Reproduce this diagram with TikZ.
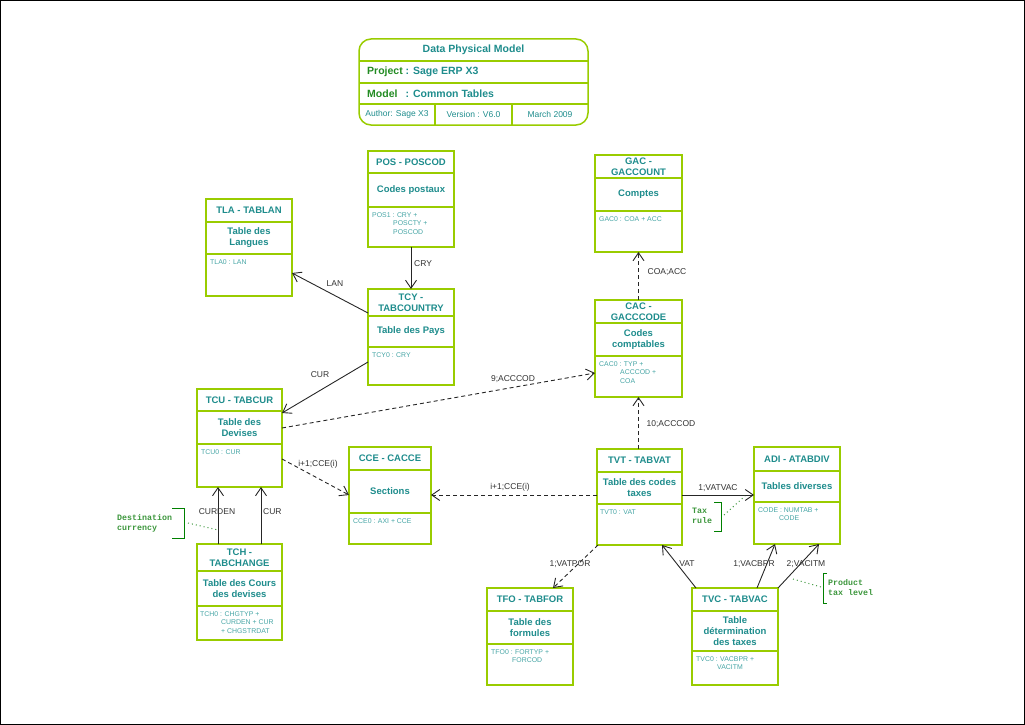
\documentclass[tikz,border=0pt]{standalone}
\usepackage{fontspec}
\setmainfont{Liberation Sans}
\newfontfamily\notefont{Liberation Mono}
\usetikzlibrary{arrows.meta,fit}

\definecolor{boxgreen}{RGB}{153,204,0}
\definecolor{hdrteal}{RGB}{30,140,140}
\definecolor{keyteal}{RGB}{70,165,165}
\definecolor{notegreen}{RGB}{60,150,60}
\definecolor{brgreen}{RGB}{0,128,0}
\definecolor{projgreen}{RGB}{34,139,34}
\definecolor{lblgray}{RGB}{50,50,50}

\tikzset{
 entity/.style={draw=boxgreen, line width=1.7pt, inner sep=0pt, outer sep=0pt},
 sepline/.style={draw=boxgreen, line width=1.7pt},
 hdr/.style={font=\fontsize{9.5}{11}\selectfont\bfseries, text=hdrteal, align=center, inner sep=0pt},
 keys/.style={font=\fontsize{6.9}{8.7}\selectfont, text=keyteal, align=left, inner sep=0pt, anchor=base west},
 conn/.style={draw=black!85, line width=0.9pt, -{Straight Barb[length=8pt,width=11pt,line width=0.9pt]}},
 dconn/.style={conn, dash pattern=on 4pt off 3pt},
 lbl/.style={font=\fontsize{8.5}{10}\selectfont, text=lblgray, inner sep=0pt},
 note/.style={font=\notefont\fontsize{8.3}{10}\selectfont\bfseries, text=notegreen, align=left, inner sep=0pt, anchor=west},
 bracket/.style={draw=brgreen, line width=1pt},
 dotline/.style={draw=notegreen, line width=1pt, dash pattern=on 1pt off 3pt},
 ttl/.style={font=\fontsize{10.5}{12}\selectfont\bfseries, text=hdrteal, inner sep=0pt},
 auth/.style={font=\fontsize{8.5}{10}\selectfont, text=hdrteal, inner sep=0pt},
}

\newcommand\entbox[9]{%
 \node[entity, fit={(#2,#3) (#4,#5)}] (#1) {};
 \draw[sepline] (#2,#6) -- (#4,#6);
 \draw[sepline] (#2,#7) -- (#4,#7);
 \node[hdr] (#1-h) at ({(#2+#4)/2},{(#3+#6)/2}) {#8};
 \node[hdr] (#1-m) at ({(#2+#4)/2},{(#6+#7)/2}) {#9};
}
\newcommand\ind{\hspace*{21pt}}

\begin{document}
\begin{tikzpicture}[x=1pt,y=-1pt]
\useasboundingbox (0,0) rectangle (1025,725);
\draw[line width=1.2pt] (0.6,0.6) rectangle (1024.4,724.4);

% title block
\node[draw=boxgreen, line width=1.5pt, rounded corners=12pt, inner sep=0pt, outer sep=0pt, fit={(359,39) (588,125)}] (title) {};
\draw[sepline, line width=1.5pt] (title.west |- 0,61) -- (title.east |- 0,61);
\draw[sepline, line width=1.5pt] (title.west |- 0,83) -- (title.east |- 0,83);
\draw[sepline, line width=1.5pt] (title.west |- 0,104) -- (title.east |- 0,104);
\draw[sepline, line width=1.5pt] (435,104) -- (title.south -| 435,0);
\draw[sepline, line width=1.5pt] (512,104) -- (title.south -| 512,0);
\node[ttl] (t1) at (473.5,50) {Data Physical Model};
\node[ttl, anchor=west] (t2) at (367,72) {\textcolor{projgreen}{\makebox[38.5pt][l]{Project}}: Sage ERP X3};
\node[ttl, anchor=west] (t3) at (367,94) {\textcolor{projgreen}{\makebox[38.5pt][l]{Model}}: Common Tables};
\node[auth] (t4) at (397,114.5) {Author: Sage X3};
\node[auth] (t5) at (473.5,114.5) {Version : V6.0};
\node[auth] (t6) at (550,114.5) {March 2009};

% entities (keys: base anchor is the last line's baseline)
\entbox{pos}{368}{151}{454}{247}{173}{207}{POS - POSCOD}{Codes postaux}
\node[keys] (pos-k) at (372,234.4) {POS1 : CRY +\\\ind POSCTY +\\\ind POSCOD};

\entbox{tla}{206}{199}{292}{296}{222}{254}{TLA - TABLAN}{Table des\\Langues}
\node[keys] (tla-k) at (210,264.5) {TLA0 : LAN};

\entbox{gac}{595}{155}{682}{252}{178}{211}{GAC -\\GACCOUNT}{Comptes}
\node[keys] (gac-k) at (599,221) {GAC0 : COA + ACC};

\entbox{tcy}{368}{289}{454}{385}{316}{347}{TCY -\\TABCOUNTRY}{Table des Pays}
\node[keys] (tcy-k) at (372,357.5) {TCY0 : CRY};

\entbox{cac}{595}{300}{682}{397}{323}{356}{CAC -\\GACCCODE}{Codes\\comptables}
\node[keys] (cac-k) at (599,383.4) {CAC0 : TYP +\\\ind ACCCOD +\\\ind COA};

\entbox{tcu}{197}{389}{282}{487}{411}{444}{TCU - TABCUR}{Table des\\Devises}
\node[keys] (tcu-k) at (201,454) {TCU0 : CUR};

\entbox{cce}{349}{447}{431}{544}{470}{513}{CCE - CACCE}{Sections}
\node[keys] (cce-k) at (353,523) {CCE0 : AXI + CCE};

\entbox{tvt}{597}{449}{682}{545}{472}{504}{TVT - TABVAT}{Table des codes\\taxes}
\node[keys] (tvt-k) at (600,514) {TVT0 : VAT};

\entbox{adi}{754}{447}{840}{544}{471}{502}{ADI - ATABDIV}{Tables diverses}
\node[keys] (adi-k) at (758,520.7) {CODE : NUMTAB +\\\ind CODE};

\entbox{tch}{197}{544}{282}{640}{571}{606}{TCH -\\TABCHANGE}{Table des Cours\\des devises}
\node[keys] (tch-k) at (200,633.4) {TCH0 : CHGTYP +\\\ind CURDEN + CUR\\\ind + CHGSTRDAT};

\entbox{tfo}{487}{588}{573}{685}{611}{644}{TFO - TABFOR}{Table des\\formules}
\node[keys] (tfo-k) at (491,662.7) {TFO0 : FORTYP +\\\ind FORCOD};

\entbox{tvc}{692}{588}{778}{685}{611}{651}{TVC - TABVAC}{Table\\d\'etermination\\des taxes}
\node[keys] (tvc-k) at (696,669.7) {TVC0 : VACBPR +\\\ind VACITM};

% connectors
\draw[conn] (pos.south) -- (tcy.north);
\draw[conn] (tcy.west |- 0,313) -- (tla.east |- 0,273);
\draw[conn] (tcy.west |- 0,362) -- (tcu.east |- 0,413);
\draw[dconn] (tcu.east |- 0,428) -- (cac.west |- 0,373);
\draw[dconn] (tcu.east |- 0,459) -- (cce.west |- 0,495);
\draw[dconn] (cac.north) -- (gac.south);
\draw[dconn] (tvt.north -| 638.5,0) -- (cac.south);
\draw[dconn] (tvt.west |- 0,495) -- (cce.east |- 0,495);
\draw[conn] (tvt.east |- 0,495) -- (adi.west |- 0,495);
\draw[dconn] (tvt.south -| 598,0) -- (tfo.north -| 553,0);
\draw[conn] (tvc.north -| 696,0) -- (tvt.south -| 662,0);
\draw[conn] (tvc.north -| 757,0) -- (adi.south -| 775,0);
\draw[conn] (tvc.north east) -- (adi.south -| 819,0);
\draw[conn] (tch.north -| 218,0) -- (tcu.south -| 218,0);
\draw[conn] (tch.north -| 261,0) -- (tcu.south -| 261,0);

% connector labels
\node[lbl, anchor=west] (l1) at (414,264) {CRY};
\node[lbl] (l2) at (335,284) {LAN};
\node[lbl] (l3) at (320,375) {CUR};
\node[lbl] (l4) at (513,379) {9;ACCCOD};
\node[lbl] (l5) at (667,272) {COA;ACC};
\node[lbl] (l6) at (671,424) {10;ACCCOD};
\node[lbl] (l7) at (318,464) {i+1;CCE(i)};
\node[lbl] (l8) at (510,487) {i+1;CCE(i)};
\node[lbl] (l9) at (718,488) {1;VATVAC};
\node[lbl] (l10) at (570,564) {1;VATPOR};
\node[lbl] (l11) at (687,564) {VAT};
\node[lbl] (l12) at (754,564) {1;VACBPR};
\node[lbl] (l13) at (806,564) {2;VACITM};
\node[lbl] (l14) at (217,512) {CURDEN};
\node[lbl, anchor=west] (l15) at (263,512) {CUR};

% notes
\node[note] (n1) at (117,523) {Destination\\currency};
\draw[bracket] (172,508) -- (184,508) -- (184,538) -- (172,538);
\coordinate (n1a) at (188,523);
\coordinate (n1b) at (218,530);
\draw[dotline] (n1a) -- (n1b);

\node[note] (n2) at (692,516) {Tax\\rule};
\draw[bracket] (714,502) -- (721,502) -- (721,531) -- (714,531);
\coordinate (n2a) at (724,515);
\coordinate (n2b) at (745,496);
\draw[dotline] (n2a) -- (n2b);

\node[note] (n3) at (828,588) {Product\\tax level};
\draw[bracket] (827,573) -- (823,573) -- (823,603) -- (827,603);
\coordinate (n3a) at (793,579);
\coordinate (n3b) at (821,587);
\draw[dotline] (n3a) -- (n3b);
\end{tikzpicture}
\end{document}
